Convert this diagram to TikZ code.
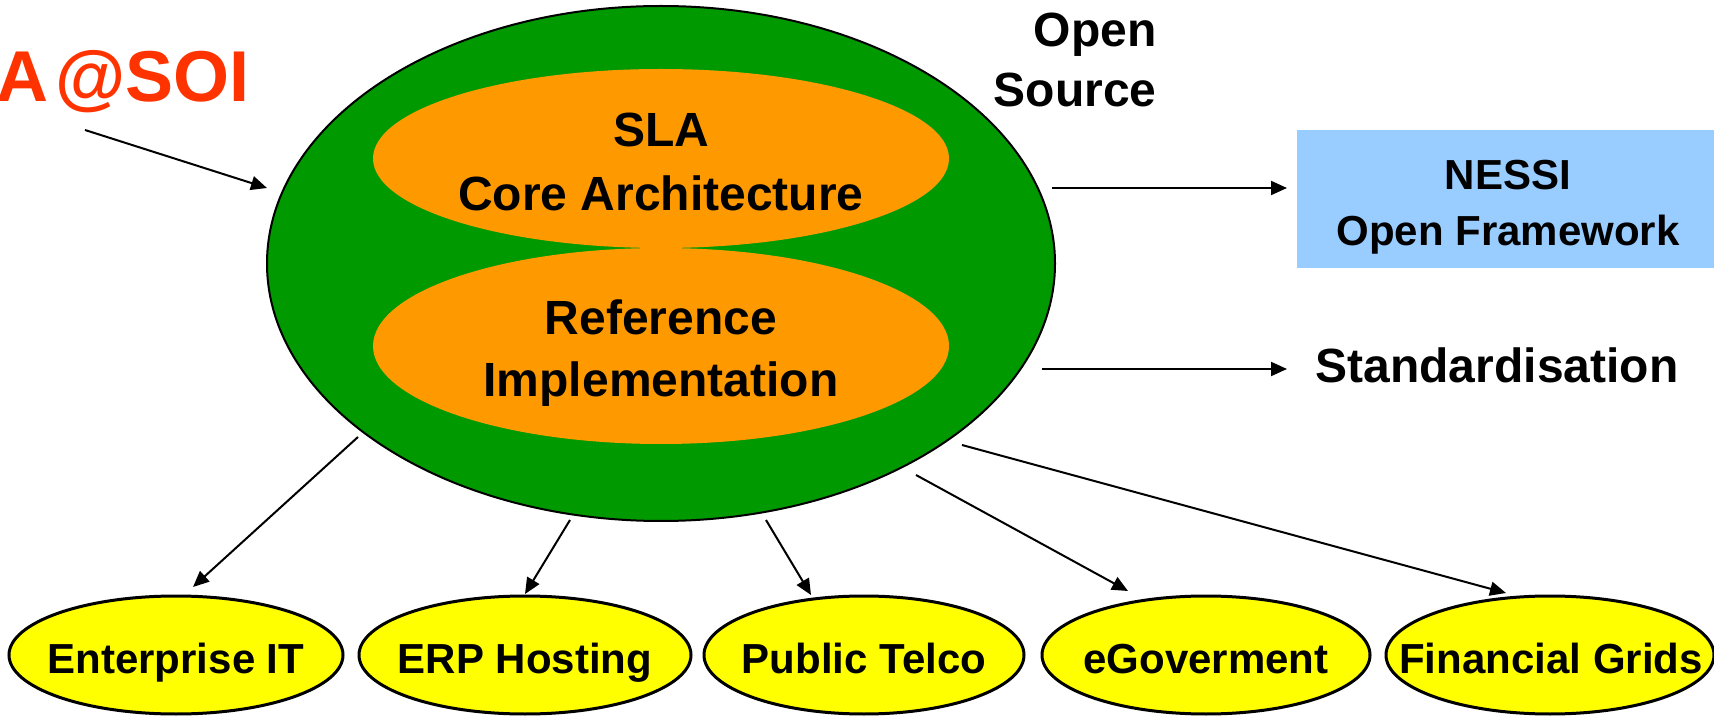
\documentclass[tikz,border=0pt]{standalone}
\usepackage{fontspec}
\setmainfont{Liberation Sans}
\usetikzlibrary{shapes.geometric,arrows.meta}
\definecolor{sgreen}{HTML}{009900}
\definecolor{sorange}{HTML}{FF9900}
\definecolor{syellow}{HTML}{FFFF00}
\definecolor{sblue}{HTML}{99CCFF}
\definecolor{sred}{HTML}{FF3300}
\begin{document}
\begin{tikzpicture}[x=0.5pt,y=-0.5pt,
  blob/.style={ellipse, inner sep=0pt, outer sep=0pt},
  big/.style={font=\fontsize{24}{28}\selectfont\bfseries, inner sep=0pt, anchor=base},
  mid/.style={font=\fontsize{21}{25}\selectfont\bfseries, inner sep=0pt, anchor=base},
  arr/.style={-{Triangle[length=8pt,width=7pt]}, line width=1pt, draw=black},
  app/.style={blob, draw=black, line width=1.5pt, fill=syellow, minimum height=59pt},
]
\useasboundingbox (0,0) rectangle (1714,716);

% main ellipses
\node[blob, fill=sgreen, draw=black, line width=1pt, minimum width=394pt, minimum height=257.5pt] (green) at (661,263.5) {};
\node[blob, fill=sorange, minimum width=288pt, minimum height=89.5pt] (core) at (661,158.5) {};
\node[blob, fill=sorange, minimum width=288pt, minimum height=98pt] (impl) at (661,346) {};
\node[big] (sla) at (661,147) {SLA};
\node[big] (corea) at (661,211) {Core Architecture};
\node[big] (ref) at (661,335) {Reference};
\node[big] (imp) at (661,397) {Implementation};

% title fragment
\node[font=\fontsize{36}{40}\selectfont\bfseries, text=sred, inner sep=0pt, anchor=base west] (soi) at (-4,102) {A\kern3.5pt@SOI};

% open source
\node[big, anchor=base east] (open) at (1157,47) {Open};
\node[big, anchor=base east] (source) at (1157,107) {Source};

% NESSI box
\node[fill=sblue, minimum width=208.5pt, minimum height=69pt, inner sep=0pt] (nessi) at (1505.5,199) {};
\node[mid] (nessia) at (1508,190) {NESSI};
\node[mid] (nessib) at (1508,246) {Open Framework};

% standardisation
\node[big] (std) at (1497,383) {Standardisation};

% application domains
\node[app, minimum width=167pt] (ent) at (176,655) {};
\node[mid] (entT) at (176,673) {Enterprise IT};
\node[app, minimum width=166pt] (erp) at (525,655) {};
\node[mid] (erpT) at (525,673) {ERP Hosting};
\node[app, minimum width=160pt] (tel) at (864,655) {};
\node[mid] (telT) at (864,673) {Public Telco};
\node[app, minimum width=164pt] (gov) at (1206,655) {};
\node[mid] (govT) at (1206,673) {eGoverment};
\node[app, minimum width=164pt] (fin) at (1550,655) {};
\node[mid] (finT) at (1551,673) {Financial Grids};

% connector end points
\coordinate (inS) at (85,130);   \coordinate (inE) at (267,188);
\coordinate (nsS) at (1052,188); \coordinate (nsE) at (1287,188);
\coordinate (stS) at (1042,369); \coordinate (stE) at (1287,369);
\coordinate (d1S) at (358,437);  \coordinate (d1E) at (193,587);
\coordinate (d2S) at (570,520);  \coordinate (d2E) at (525,594);
\coordinate (d3S) at (766,520);  \coordinate (d3E) at (811,595);
\coordinate (d4S) at (916,475);  \coordinate (d4E) at (1128,591);
\coordinate (d5S) at (962,445);  \coordinate (d5E) at (1506,593);

\draw[arr] (inS) -- (inE);
\draw[arr] (nsS) -- (nsE);
\draw[arr] (stS) -- (stE);
\draw[arr] (d1S) -- (d1E);
\draw[arr] (d2S) -- (d2E);
\draw[arr] (d3S) -- (d3E);
\draw[arr] (d4S) -- (d4E);
\draw[arr] (d5S) -- (d5E);
\end{tikzpicture}
\end{document}
